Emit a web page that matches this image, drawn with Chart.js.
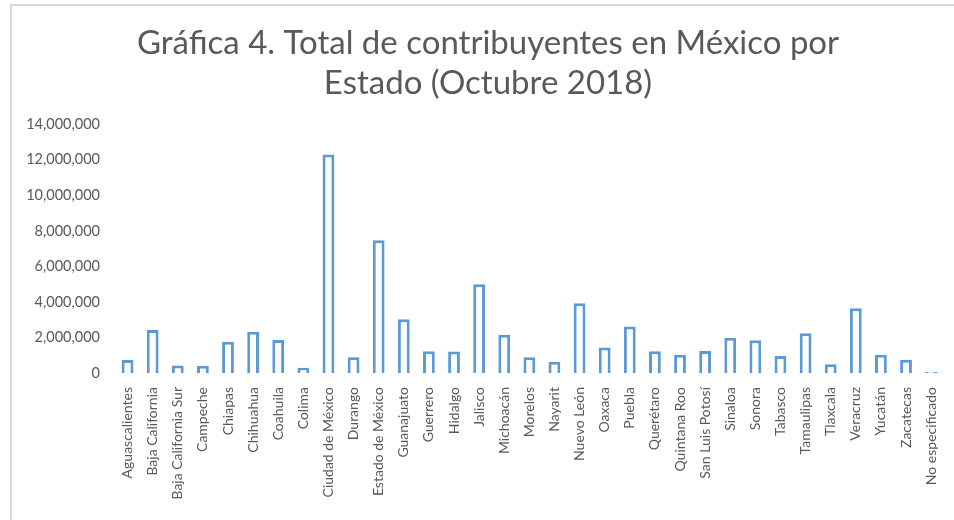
<!DOCTYPE html>
<html>
<head>
<meta charset="utf-8">
<script src="https://cdn.jsdelivr.net/npm/chart.js@4"></script>
<style>
  html, body { margin: 0; padding: 0; background: #fff; }
  #wrap { position: relative; width: 954px; height: 520px; overflow: hidden; }
  #frame { position: absolute; left: 10px; top: 4px; right: -10px; bottom: -10px;
           border-left: 2px solid #d9d9d9; border-top: 2px solid #d9d9d9; }
  canvas { position: absolute; left: 0; top: 0; }
</style>
</head>
<body>
<div id="wrap">
  <div id="frame"></div>
  <canvas id="chart" width="954" height="520"></canvas>
</div>
<script>
// ── Data ─────────────────────────────────────────────────────────────────────

const STATES = [
    'Aguascalientes', 'Baja California', 'Baja California Sur', 'Campeche', 'Chiapas',
    'Chihuahua', 'Coahuila', 'Colima', 'Ciudad de México', 'Durango',
    'Estado de México', 'Guanajuato', 'Guerrero', 'Hidalgo', 'Jalisco',
    'Michoacán', 'Morelos', 'Nayarit', 'Nuevo León', 'Oaxaca',
    'Puebla', 'Querétaro', 'Quintana Roo', 'San Luis Potosí', 'Sinaloa',
    'Sonora', 'Tabasco', 'Tamaulipas', 'Tlaxcala', 'Veracruz',
    'Yucatán', 'Zacatecas', 'No especificado'
];

const CONTRIBUYENTES = [
    730000, 2420000, 420000, 410000, 1760000,
    2320000, 1850000, 300000, 12300000, 880000,
    7470000, 3020000, 1230000, 1210000, 5000000,
    2150000, 880000, 640000, 3920000, 1440000,
    2620000, 1220000, 1030000, 1240000, 1980000,
    1840000, 960000, 2230000, 490000, 3650000,
    1030000, 750000, 50000
];

const Y_TICKS = [0, 2000000, 4000000, 6000000, 8000000, 10000000, 12000000, 14000000];

const TITLE_LINES = ['Gráfica 4. Total de contribuyentes en México por', 'Estado (Octubre 2018)'];

const TEXT = '#595959';
const BAR = '#5b9bd5';
const FONT = 'Lato, "Open Sans", sans-serif';

new Chart(document.getElementById('chart'), {
    type: 'bar',
    data: {
        labels: STATES,
        datasets: [{
            data: CONTRIBUYENTES,
            backgroundColor: '#ffffff',
            borderColor: BAR,
            borderWidth: 3,
            categoryPercentage: 1,
            barPercentage: 0.47
        }]
    },
    options: {
        responsive: false,
        animation: false,
        // left padding nudges the title centre right, like the original
        layout: { padding: { left: 26, right: 4, top: 0, bottom: 0 } },
        plugins: {
            legend: { display: false },
            tooltip: { enabled: false },
            title: {
                display: true,
                text: TITLE_LINES,
                color: TEXT,
                font: { family: FONT, size: 33, weight: 'normal', lineHeight: 1.2 },
                padding: { top: 24, bottom: 21 }
            }
        },
        scales: {
            x: {
                grid: { display: false },
                border: { display: false },
                ticks: {
                    color: TEXT,
                    font: { family: FONT, size: 14 },
                    minRotation: 90,
                    maxRotation: 90,
                    autoSkip: false,
                    padding: 6
                },
                afterFit: s => { s.height = 147; }
            },
            y: {
                min: 0,
                max: 14000000,
                grid: { display: false },
                border: { display: false },
                afterBuildTicks: s => { s.ticks = Y_TICKS.map(v => ({ value: v })); },
                ticks: {
                    color: TEXT,
                    font: { family: FONT, size: 14.5 },
                    padding: 7,
                    callback: v => v.toLocaleString('en-US')
                },
                afterFit: s => { s.width = 89; }
            }
        }
    }
});
</script>
</body>
</html>
